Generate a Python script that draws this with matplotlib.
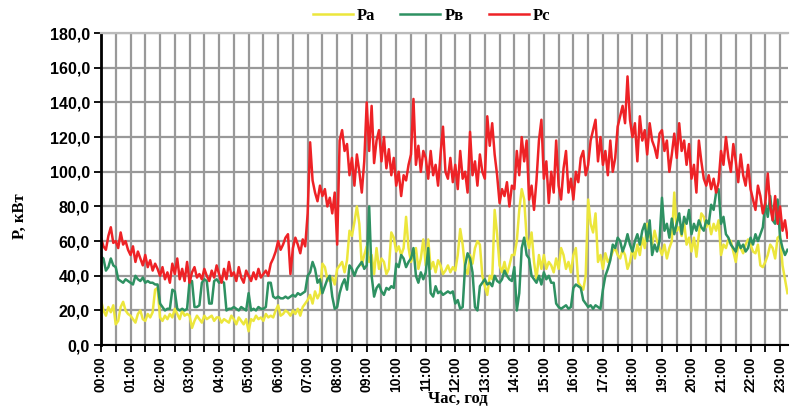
"""Daily phase power profile (Pa, Pв, Pc)."""

import matplotlib

matplotlib.use("Agg")
import matplotlib.pyplot as plt
import numpy as np
from matplotlib.ticker import FuncFormatter, MultipleLocator

# 5-minute readings, 00:00 .. 23:15 (kW), one row per hour
pa = [
    26, 20, 17, 22, 19, 23, 12, 14, 22, 25, 20, 18,
    17, 15, 13, 18, 20, 15, 14, 18, 16, 19, 32, 33,
    16, 14, 17, 15, 18, 16, 21, 18, 15, 20, 17, 18,
    17, 10, 14, 17, 15, 13, 17, 15, 16, 17, 14, 16,
    16, 13, 15, 14, 13, 17, 15, 12, 16, 14, 12, 15,
    8, 15, 14, 17, 15, 16, 14, 18, 16, 17, 16, 20,
    23, 17, 18, 20, 19, 17, 20, 18, 21, 17, 22, 24,
    26, 29, 24, 31, 27, 30, 47, 45, 38, 37, 39, 35,
    44, 46, 48, 42, 49, 66, 63, 71, 80, 70, 46, 52,
    57, 48, 52, 41, 56, 44, 50, 48, 41, 44, 65, 62,
    54, 57, 52, 56, 74, 56, 48, 52, 56, 44, 50, 61,
    46, 61, 44, 48, 42, 49, 46, 41, 43, 46, 42, 45,
    43, 52, 67, 58, 44, 41, 52, 47, 56, 60, 58, 40,
    34, 29, 40, 38, 78, 64, 46, 42, 48, 41, 46, 52,
    52, 60, 78, 90, 84, 62, 56, 65, 48, 38, 52, 44,
    52, 44, 48, 46, 42, 50, 44, 56, 52, 44, 48, 42,
    52, 56, 36, 34, 32, 40, 84, 70, 65, 76, 48, 52,
    44, 53, 48, 50, 54, 56, 52, 50, 55, 52, 44, 48,
    56, 50, 58, 52, 62, 56, 70, 64, 58, 66, 60, 56,
    52, 58, 50, 56, 60, 88, 66, 68, 63, 71, 58, 62,
    54, 62, 51, 64, 76, 74, 68, 72, 64, 70, 66, 72,
    52, 58, 56, 61, 60, 54, 48, 58, 56, 53, 58, 61,
    58, 54, 53, 58, 46, 45, 48, 52, 58, 56, 50, 62,
    63, 46, 38, 30,
]
pb = [
    51, 50, 43, 45, 50, 46, 45, 38, 37, 36, 38, 37,
    36, 35, 40, 38, 37, 39, 36, 37, 36, 36, 35, 35,
    24, 22, 20, 21, 21, 32, 31, 21, 20, 21, 20, 21,
    37, 37, 22, 22, 23, 36, 38, 37, 24, 24, 37, 38,
    36, 37, 36, 20, 21, 21, 22, 21, 20, 22, 21, 20,
    30, 20, 21, 20, 22, 21, 21, 22, 36, 36, 28, 27,
    28, 27, 27, 28, 27, 28, 29, 28, 30, 29, 30, 31,
    40, 42, 48, 44, 36, 38, 30, 34, 38, 40, 28, 21,
    22, 30, 35, 38, 32, 46, 44, 40, 44, 46, 48, 44,
    46, 80, 40, 28, 33, 35, 31, 29, 33, 32, 34, 33,
    47, 45, 52, 50, 45, 48, 50, 56, 40, 36, 42, 38,
    42, 56, 30, 28, 34, 30, 31, 29, 30, 31, 30, 31,
    24, 26, 21, 22, 46, 53, 50, 42, 22, 20, 34, 36,
    38, 35, 36, 34, 40, 37, 36, 38, 43, 40, 38, 37,
    45, 20, 30, 56, 62, 52, 50, 40, 38, 36, 40, 35,
    42, 38, 40, 36, 36, 24, 22, 21, 22, 23, 21, 22,
    33, 35, 34, 33, 26, 24, 22, 23, 21, 23, 22, 21,
    32, 40, 44, 49, 58, 56, 62, 60, 54, 58, 64, 58,
    54, 60, 64, 58, 66, 70, 60, 72, 52, 58, 54, 60,
    85, 66, 70, 62, 73, 64, 70, 76, 64, 74, 70, 78,
    64, 70, 66, 72, 68, 66, 72, 70, 81, 78, 88, 90,
    70, 74, 64, 62, 58, 56, 54, 60, 56, 58, 54, 56,
    62, 58, 64, 60, 64, 68, 82, 74, 86, 72, 70, 84,
    62, 56, 52, 55,
]
pc = [
    62, 57, 55, 63, 68, 59, 60, 56, 65, 58, 60, 55,
    52, 57, 48, 54, 50, 46, 52, 45, 49, 43, 47, 44,
    40, 45, 38, 42, 36, 47, 41, 50, 38, 44, 37, 48,
    36, 42, 45, 39, 41, 38, 44, 40, 37, 43, 39, 46,
    41, 36, 44, 38, 48, 40, 42, 37, 45, 39, 36, 43,
    40, 37, 42, 38, 44, 39, 41, 43, 40, 47, 50, 54,
    60, 55, 58, 62, 64, 41, 56, 62, 58, 53, 61, 57,
    76, 117, 95, 88, 83, 92, 86, 90, 80, 85, 76, 88,
    58, 118, 124, 112, 116, 98, 108, 92, 110, 100, 88, 106,
    140, 112, 138, 105, 118, 124, 106, 120, 102, 113, 98, 108,
    92, 100, 86, 98, 95, 104, 110, 142, 104, 115, 100, 112,
    108, 96, 112, 98, 104, 92, 110, 126, 100, 96, 108, 94,
    104, 90, 112, 96, 100, 88, 123, 98, 106, 92, 110, 100,
    96, 132, 115, 128, 110, 98, 82, 90, 86, 94, 80, 92,
    90, 112, 98, 120, 106, 118, 84, 92, 78, 95, 118, 130,
    96, 106, 82, 100, 88, 118, 92, 84, 102, 112, 88, 96,
    84, 100, 94, 108, 112, 98, 104, 118, 124, 130, 106, 120,
    104, 112, 98, 118, 100, 108, 126, 132, 138, 128, 155, 130,
    120, 128, 106, 132, 118, 124, 110, 128, 118, 114, 108, 122,
    124, 112, 118, 100, 110, 122, 108, 128, 112, 118, 104, 116,
    96, 104, 88, 118, 106, 96, 92, 98, 90, 96, 88, 94,
    112, 104, 120, 108, 100, 116, 106, 94, 110, 98, 92, 104,
    90, 84, 78, 92, 86, 76, 82, 99, 80, 72, 86, 70,
    80, 66, 72, 62,
]
series_names = ["Pa", "Pв", "Pc"]
series_colors = ["#ECE63C", "#2E9162", "#EE2226"]

hours = np.arange(len(pc)) * 5 / 60.0

fig = plt.figure(figsize=(7.92, 4.08), dpi=100)
ax = fig.add_axes([0.1275, 0.154, 0.8675, 0.765])

for vals, name, color in zip([pa, pb, pc], series_names, series_colors):
    ax.plot(hours, vals, color=color, lw=1.8, label=name, solid_joinstyle="round")

ax.set_xlim(0, 23.27)
ax.set_ylim(0, 180)
ax.xaxis.set_major_locator(MultipleLocator(1))
ax.xaxis.set_minor_locator(MultipleLocator(0.5))
ax.xaxis.set_major_formatter(FuncFormatter(lambda v, p: f"{int(round(v)):02d}:00"))
ax.yaxis.set_major_locator(MultipleLocator(20))
ax.yaxis.set_major_formatter(FuncFormatter(lambda v, p: f"{v:.1f}".replace(".", ",")))

ax.grid(True, which="both", axis="x", color="#999999", lw=1.6)
ax.grid(True, which="major", axis="y", color="#999999", lw=1.6)
ax.set_axisbelow(True)

ax.spines["right"].set_visible(False)
ax.spines["top"].set_color("#BBBBBB")
ax.spines["top"].set_linewidth(1.6)
ax.spines["left"].set_linewidth(2.0)
ax.spines["bottom"].set_linewidth(1.5)

ax.tick_params(axis="x", which="both", direction="out", length=5, width=1.3, pad=3)
ax.tick_params(axis="y", direction="out", length=5, width=1.3, pad=3)
for lbl in ax.get_xticklabels():
    lbl.set_rotation(90)
    lbl.set_fontfamily("Liberation Sans")
    lbl.set_fontweight("bold")
    lbl.set_fontsize(10)
for lbl in ax.get_yticklabels():
    lbl.set_fontfamily("Liberation Sans")
    lbl.set_fontweight("bold")
    lbl.set_fontsize(11.5)

ax.set_ylabel("P, кВт", family="Liberation Serif", weight="bold", fontsize=12)
ax.yaxis.set_label_coords(-0.106, 0.413)
ax.set_xlabel("Час, год", family="Liberation Serif", weight="bold", fontsize=12)
ax.xaxis.set_label_coords(0.52, -0.147)

fig.legend(
    loc="center",
    bbox_to_anchor=(0.545, 0.962),
    ncol=3,
    frameon=False,
    handlelength=2.4,
    columnspacing=1.5,
    handletextpad=0.25,
    prop={"family": "Liberation Serif", "weight": "bold", "size": 12},
)

fig.savefig("out.png", dpi=100)
